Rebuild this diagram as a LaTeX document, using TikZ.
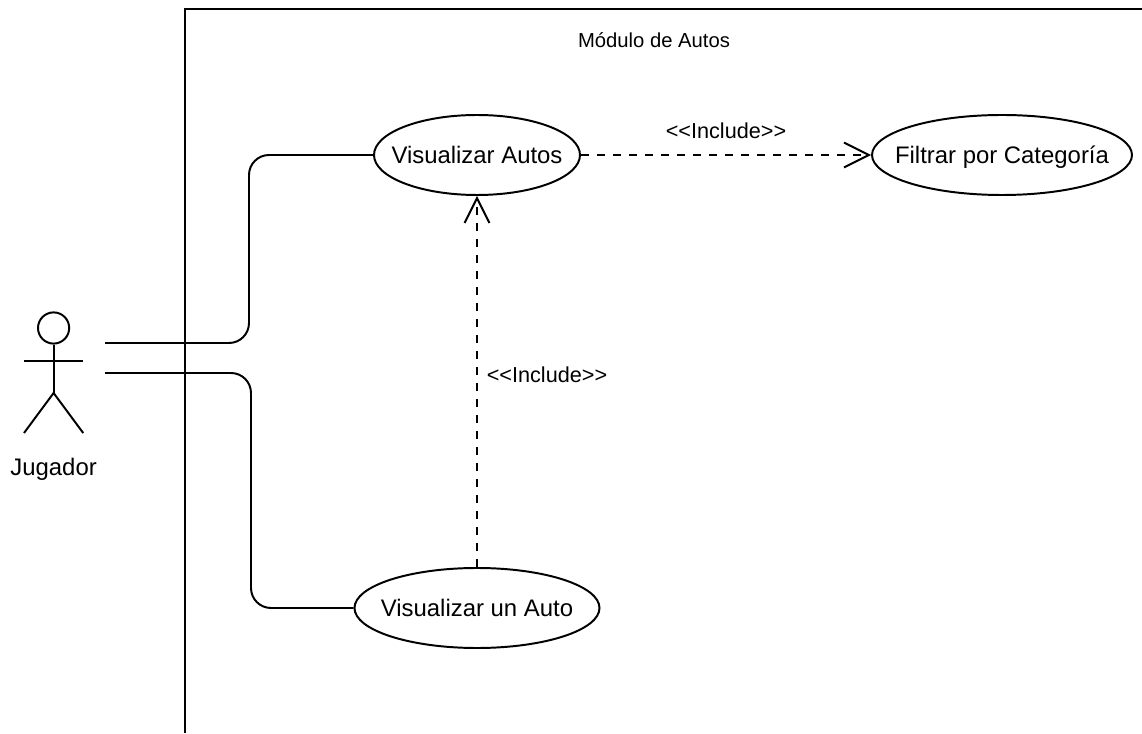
\documentclass[tikz,border=0pt]{standalone}
\usepackage{fontspec}
\setmainfont{Liberation Sans}
\usetikzlibrary{arrows.meta,positioning,shapes.geometric}
\tikzset{
    usecase/.style={draw,ellipse,line width=1.4pt,minimum height=2cm,inner sep=0pt,text height=12.8pt,text depth=0pt,font=\fontsize{17}{20}\selectfont},
    stereotype/.style={inner sep=0pt,font=\fontsize{15.4}{18}\selectfont},
    assoc/.style={line width=1.4pt,rounded corners=0.5cm},
    includes/.style={line width=1.4pt,dash pattern=on 0.2cm off 0.2cm,-{Straight Barb[length=0.62cm,width=0.62cm,line width=1.4pt]}}
}

\begin{document}
\begin{tikzpicture}
            \useasboundingbox (0,0) rectangle (28.55,18.325);
            \draw[line width=1.4pt] (4.625,0) -- (4.625,18.11) -- (28.55,18.11);
            \node[inner sep=0pt,font=\fontsize{14.4}{17}\selectfont] (title) at (16.35,17.325) {Módulo de Autos};

            \node[usecase,minimum width=5.15cm] (autos) at (11.925,14.45) {\makebox[0pt]{Visualizar Autos}};
            \node[usecase,minimum width=6.5cm] (filtrar) at (25.05,14.45) {\makebox[0pt]{Filtrar por Categoría}};
            \node[usecase,minimum width=6.125cm] (unauto) at (11.925,3.125) {\makebox[0pt]{Visualizar un Auto}};

            \begin{scope}[
                line width=1.4pt
            ]
                \node[draw,circle,minimum size=0.78cm,inner sep=0pt] (head) at (1.34,10.125) {};
                \coordinate (hip) at (1.34,8.5);
                \coordinate (armleft) at (0.6,9.3);
                \coordinate (armright) at (2.08,9.3);
                \coordinate (footleft) at (0.6,7.5);
                \coordinate (footright) at (2.08,7.5);
                \draw (head.south) -- (hip);
                \draw (armleft) -- (armright);
                \draw (footleft) -- (hip) -- (footright);
            \end{scope}
            \node[below=0.42cm of hip,yshift=-1.195cm,inner sep=0pt,font=\fontsize{17}{20}\selectfont] (jugador) {Jugador};

            \coordinate (actorup) at (2.625,9.75);
            \coordinate (actordown) at (2.625,9);
            \coordinate (bendup) at (6.225,12);
            \coordinate (benddown) at (6.275,6);
            \draw[assoc] (actorup) -| (bendup) |- (autos.west);
            \draw[assoc] (actordown) -| (benddown) |- (unauto.west);

            \draw[includes] (autos.east) -- (filtrar.west) node[midway,stereotype,above=0.37cm] (labelfiltrar) {<{}<Include>{}>};
            \draw[includes] (unauto.north) -- (autos.south) node[midway,stereotype,right=0.22cm,yshift=0.175cm] (labelauto) {<{}<Include>{}>};
        \end{tikzpicture}
\end{document}
